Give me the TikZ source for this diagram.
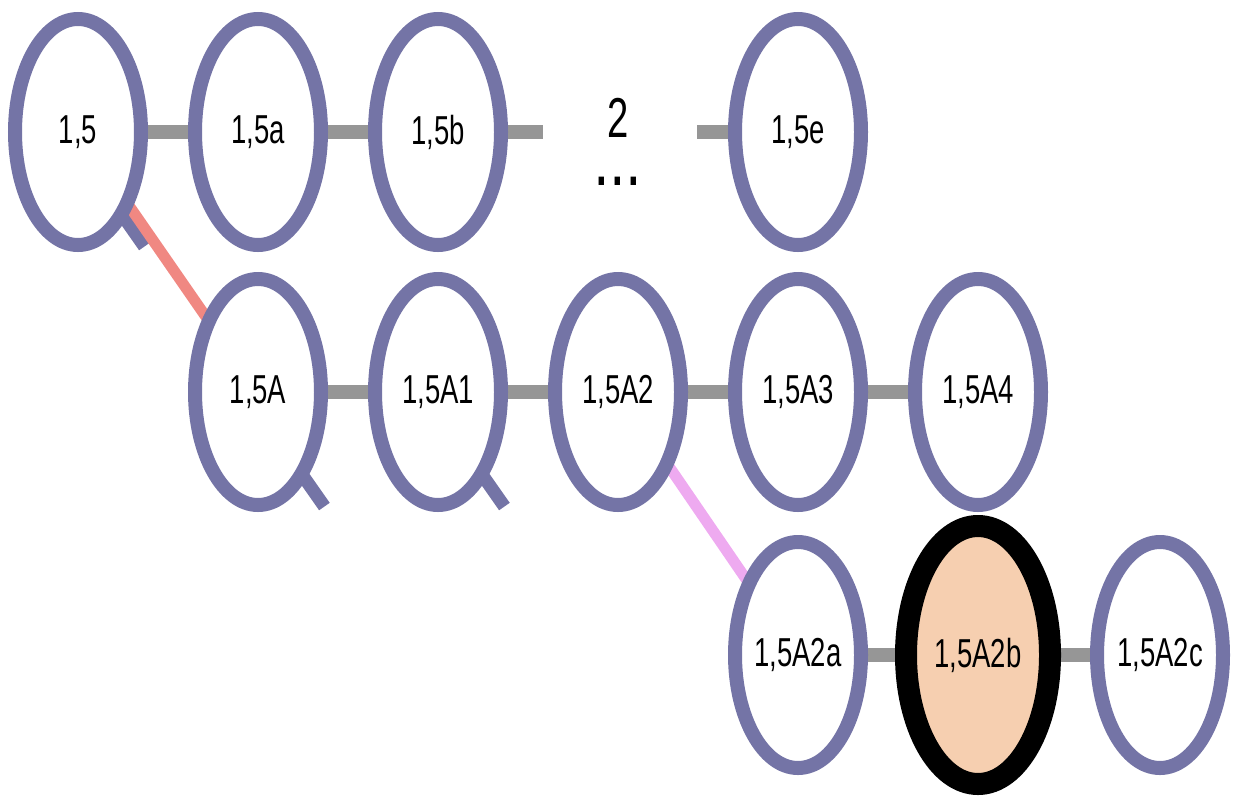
\documentclass[tikz,border=0pt]{standalone}
\usepackage{fontspec}
\newfontfamily\labelfont{Liberation Sans}[FakeStretch=0.68]
\usetikzlibrary{positioning,shapes.geometric,backgrounds}
\definecolor{ringblue}{RGB}{116,116,166}
\definecolor{linkgray}{RGB}{150,150,150}
\definecolor{salmon}{RGB}{240,136,130}
\definecolor{orchid}{RGB}{238,170,240}
\definecolor{peach}{RGB}{246,207,176}

\begin{document}
\begin{tikzpicture}[
  node distance=1.08cm,
  ring/.style={ellipse,draw=ringblue,line width=0.28cm,fill=white,
               inner sep=0pt,outer sep=0pt,
               minimum width=2.52cm,minimum height=4.52cm,
               font=\labelfont\fontsize{23}{26}\selectfont},
  here/.style={ring,draw=black,fill=peach,line width=0.44cm,
               minimum width=2.88cm,minimum height=5.16cm},
  gaptext/.style={inner sep=0pt,font=\labelfont\fontsize{32}{36}\selectfont},
  link/.style={draw=linkgray,line width=0.28cm},
  jump/.style={line width=0.22cm},
  handle/.style={draw=ringblue,line width=0.26cm}
]
\useasboundingbox (-1.56,2.64) rectangle (23.1,-13.26);

% top row
\node[ring] (n15) at (0,0) {1,5};
\node[ring,right=of n15]       (n15a) {1,5a};
\node[ring,right=of n15a]      (n15b) {1,5b};
\node[ring,right=4.68cm of n15b] (n15e) {1,5e};
\path (n15b) -- (n15e)
  node[gaptext,midway,yshift=0.28cm] (two) {2}
  node[gaptext,midway,yshift=-0.98cm] (more) {\bfseries .\kern3pt.\kern3pt.};
\coordinate[right=2.1cm of n15b.center]  (gapL);
\coordinate[left=2.02cm of n15e.center]  (gapR);

% middle row
\node[ring,below=0.68cm of n15a] (n15A)  {1,5A};
\node[ring,right=of n15A]        (n15A1) {1,5A1};
\node[ring,right=of n15A1]       (n15A2) {1,5A2};
\node[ring,right=of n15A2]       (n15A3) {1,5A3};
\node[ring,right=of n15A3]       (n15A4) {1,5A4};

% bottom row
\node[ring,below=0.74cm of n15A3]  (n15A2a) {1,5A2a};
\node[here,right=0.9cm of n15A2a]  (n15A2b) {1,5A2b};
\node[ring,right=0.94cm of n15A2b] (n15A2c) {1,5A2c};

\begin{scope}[on background layer]
\draw[link] (n15) -- (n15a) (n15a) -- (n15b) (n15b) -- (gapL) (gapR) -- (n15e);
\draw[link] (n15A) -- (n15A1) (n15A1) -- (n15A2) (n15A2) -- (n15A3) (n15A3) -- (n15A4);
\draw[link] (n15A2a) -- (n15A2b) (n15A2b) -- (n15A2c);
\foreach \n in {n15,n15A,n15A1}
  \draw[handle] (\n.-62) -- ++(-55:0.8);
\draw[jump,draw=salmon] (n15) -- (n15A);
\draw[jump,draw=orchid] (n15A2) -- (n15A2a);
\end{scope}
\end{tikzpicture}
\end{document}
